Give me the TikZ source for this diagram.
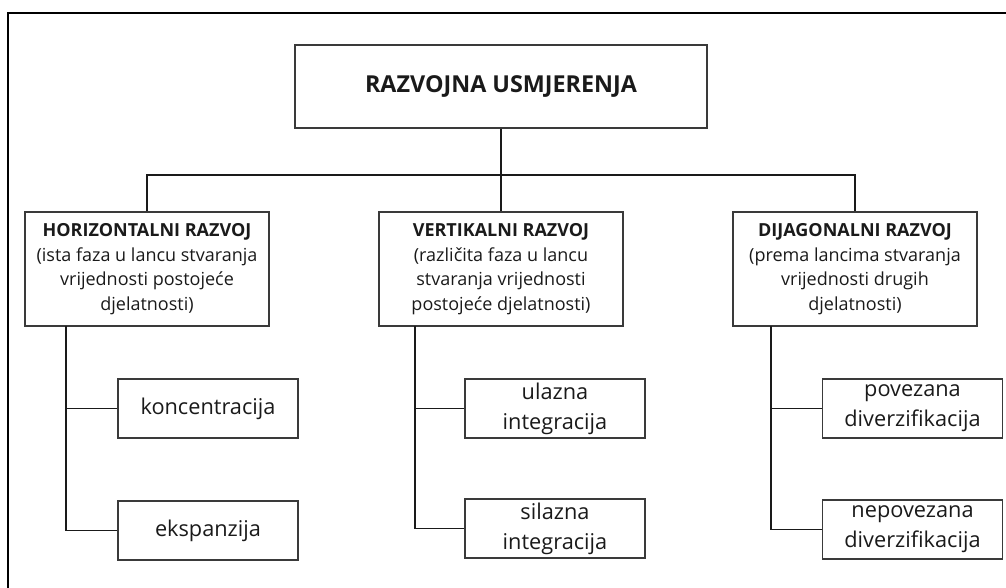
\documentclass[tikz,border=0pt]{standalone}
\usepackage{fontspec}
\setmainfont{Open Sans}

\definecolor{rub}{HTML}{3A3A3A}
\definecolor{crta}{HTML}{1A1A1A}

\tikzset{kutija/.style = {rectangle, draw = rub, line width = 1.1pt, align = center,
                          text = crta, inner sep = 0pt},
         glavni/.style = {kutija, minimum width = 309pt, minimum height = 62.25pt,
                          font = \fontsize{17.5}{21}\selectfont\bfseries},
         razvoj/.style = {kutija, minimum width = 183pt, minimum height = 85.5pt,
                          font = \fontsize{13.5}{18.4}\selectfont},
         oblik/.style  = {kutija, minimum width = 135pt, minimum height = 44.25pt,
                          font = \fontsize{16.3}{22.5}\selectfont},
         veza/.style   = {draw = crta, line width = 1.4pt}
        }

\begin{document}
\begin{tikzpicture}[x=0.75pt, y=-0.75pt]
\useasboundingbox (0,0) rectangle (1006,588);
% okvir
\draw[line width = 1.6pt] (8,588) -- (8,13) -- (1006,13);

\node[glavni] at (501,86.5) (korijen) {RAZVOJNA USMJERENJA};

\node[razvoj] at (147,269) (hor) {\textbf{HORIZONTALNI RAZVOJ}\\(ista faza u lancu stvaranja\\vrijednosti postojeće\\djelatnosti)};
\node[razvoj] at (501,269) (ver) {\textbf{VERTIKALNI RAZVOJ}\\(različita faza u lancu\\stvaranja vrijednosti\\postojeće djelatnosti)};
\node[razvoj] at (855,269) (dij) {\textbf{DIJAGONALNI RAZVOJ}\\(prema lancima stvaranja\\vrijednosti drugih\\djelatnosti)};

\node[oblik] at (208,408.5) (konc) {koncentracija};
\node[oblik] at (208,530.5) (eksp) {ekspanzija};
\node[oblik] at (555,408.5) (ulaz) {ulazna\\integracija};
\node[oblik] at (555,528.5) (silaz) {silazna\\integracija};
\node[oblik] at (912.5,408.5) (pov) {povezana\\diverzifikacija};
\node[oblik] at (912.5,529.5) (nepov) {nepovezana\\diverzifikacija};

% veze
\coordinate (spoj) at (501,175);
\draw[veza] (korijen.south) -- (ver.north);
\draw[veza] (hor.north) |- (spoj) -| (dij.north);

\coordinate (hd) at (66,326);
\coordinate (vd) at (415,326);
\coordinate (dd) at (771,326);
\draw[veza] (hd) |- (konc.west);
\draw[veza] (hd) |- (eksp.west);
\draw[veza] (vd) |- (ulaz.west);
\draw[veza] (vd) |- (silaz.west);
\draw[veza] (dd) |- (pov.west);
\draw[veza] (dd) |- (nepov.west);
\end{tikzpicture}
\end{document}
